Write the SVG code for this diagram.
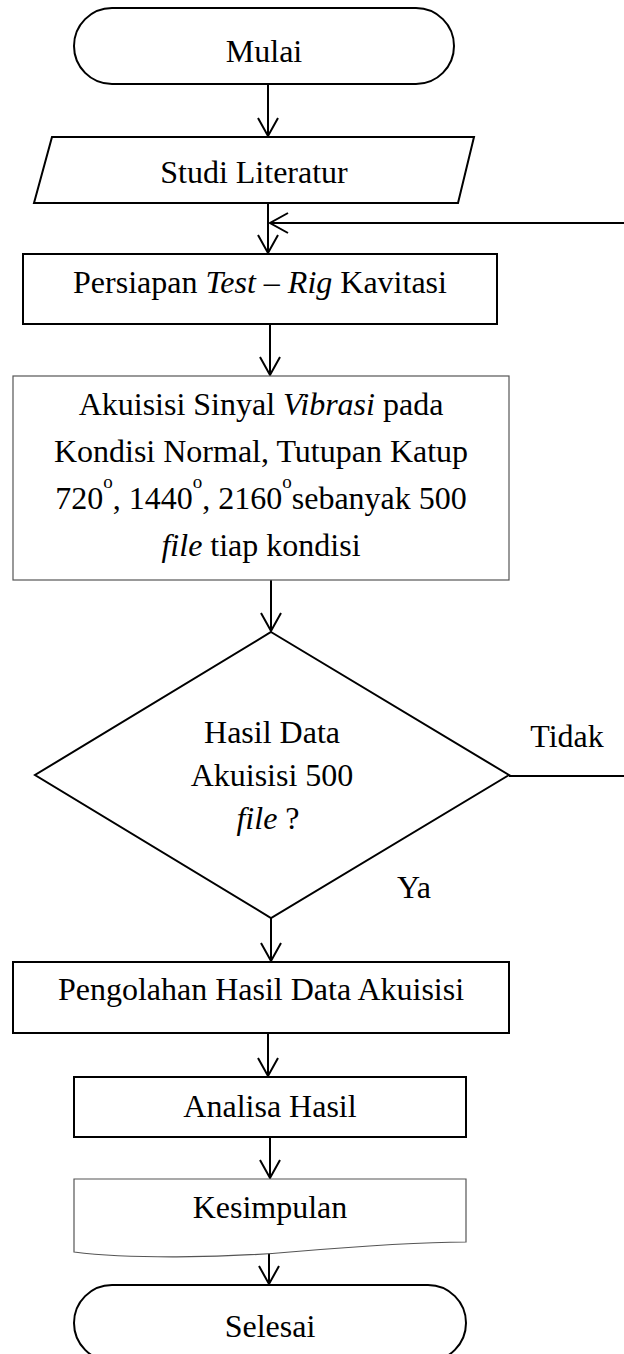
<svg xmlns="http://www.w3.org/2000/svg" width="624" height="1354" viewBox="0 0 624 1354">
<style>
text{font-family:"Liberation Serif","Times New Roman",serif;font-size:32px;fill:#000;text-anchor:middle}
.i{font-style:italic}
.sup{font-size:19px}
.shape{fill:#fff;stroke:#000;stroke-width:2}
.thin{fill:#fff;stroke:#555;stroke-width:1.2}
.conn{fill:none;stroke:#000;stroke-width:2}
</style>
<defs>
<marker id="arr" markerUnits="userSpaceOnUse" viewBox="-22 -13 26 26" markerWidth="26" markerHeight="26" refX="0" refY="0" orient="auto" overflow="visible">
<path d="M-18,-10 L0,0 L-18,10" fill="none" stroke="#000" stroke-width="2"/>
</marker>
</defs>
<rect width="624" height="1354" fill="#fff"/>
<g id="connectors">
<line class="conn" x1="268" y1="84" x2="268" y2="136" marker-end="url(#arr)"/>
<line class="conn" x1="268" y1="203" x2="268" y2="253" marker-end="url(#arr)"/>
<polyline class="conn" points="509,776 640,776 640,223 270,223" marker-end="url(#arr)"/>
<line class="conn" x1="270" y1="324" x2="270" y2="375" marker-end="url(#arr)"/>
<line class="conn" x1="271" y1="580" x2="271" y2="631" marker-end="url(#arr)"/>
<line class="conn" x1="271" y1="918" x2="271" y2="961" marker-end="url(#arr)"/>
<line class="conn" x1="268" y1="1033" x2="268" y2="1076" marker-end="url(#arr)"/>
<line class="conn" x1="270" y1="1137" x2="270" y2="1178" marker-end="url(#arr)"/>
<line class="conn" x1="269" y1="1252" x2="269" y2="1284" marker-end="url(#arr)"/>
<text x="567" y="747">Tidak</text>
<text x="414" y="898">Ya</text>
</g>
<g id="mulai">
<rect class="shape" x="74" y="8" width="380" height="76" rx="38" ry="38"/>
<text x="264" y="62">Mulai</text>
</g>
<g id="studi">
<polygon class="shape" points="52,137 474,137 458,203 34,203"/>
<text x="254" y="183">Studi Literatur</text>
</g>
<g id="persiapan">
<rect class="shape" x="23" y="254" width="474" height="70"/>
<text x="260" y="293">Persiapan <tspan class="i">Test</tspan> – <tspan class="i">Rig</tspan> Kavitasi</text>
</g>
<g id="akuisisi">
<rect class="thin" x="13" y="376" width="496" height="204"/>
<text x="261" y="415">Akuisisi Sinyal <tspan class="i">Vibrasi</tspan> pada</text>
<text x="261" y="462">Kondisi Normal, Tutupan Katup</text>
<text x="261" y="509">720<tspan class="sup" dy="-21">o</tspan><tspan dy="21">, 1440</tspan><tspan class="sup" dy="-21">o</tspan><tspan dy="21">, 2160</tspan><tspan class="sup" dy="-21">o</tspan><tspan dy="21">sebanyak 500</tspan></text>
<text x="261" y="556"><tspan class="i">file</tspan> tiap kondisi</text>
</g>
<g id="keputusan">
<polygon class="shape" points="271,632 509,775 271,918 35,775"/>
<text x="272" y="743">Hasil Data</text>
<text x="272" y="786">Akuisisi 500</text>
<text x="268" y="829"><tspan class="i">file</tspan> ?</text>
</g>
<g id="pengolahan">
<rect class="shape" x="13" y="962" width="496" height="71"/>
<text x="261" y="1000">Pengolahan Hasil Data Akuisisi</text>
</g>
<g id="analisa">
<rect class="shape" x="74" y="1077" width="392" height="60"/>
<text x="270" y="1117">Analisa Hasil</text>
</g>
<g id="kesimpulan">
<path class="thin" d="M74,1179 H466 V1242 C420,1242 360,1246 290,1252 C220,1258 130,1259 74,1252 Z"/>
<text x="270" y="1218">Kesimpulan</text>
</g>
<g id="selesai">
<rect class="shape" x="74" y="1285" width="392" height="76" rx="38" ry="38"/>
<text x="270" y="1337">Selesai</text>
</g>
</svg>
